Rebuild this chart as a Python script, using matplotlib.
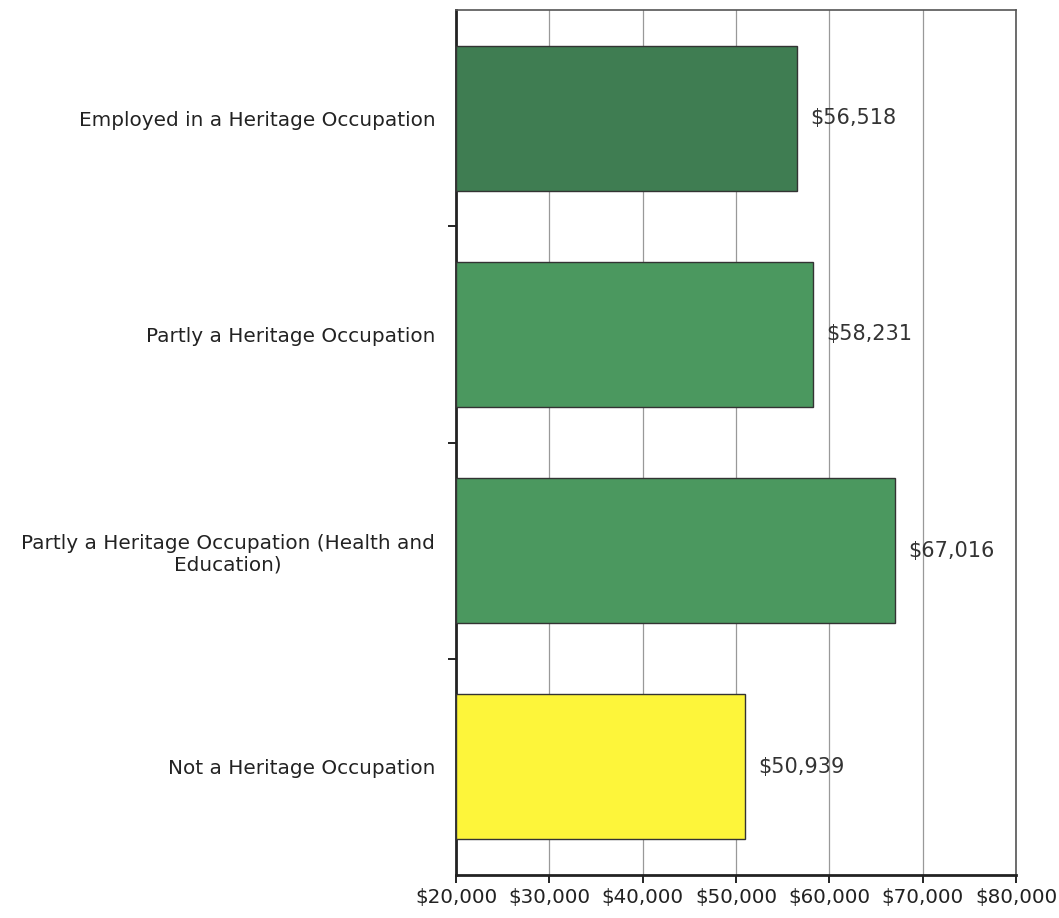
import numpy as np
import matplotlib.pyplot as plt
from matplotlib.ticker import FuncFormatter

categories = ["Employed in a Heritage Occupation",
              "Partly a Heritage Occupation",
              "Partly a Heritage Occupation (Health and\nEducation)",
              "Not a Heritage Occupation"]
values = [56518, 58231, 67016, 50939]
colors = ["#3f7d52", "#4b985f", "#4b985f", "#fdf53a"]
xticks = [20000, 30000, 40000, 50000, 60000, 70000, 80000]

fig = plt.figure(figsize=(10.59, 9.18), dpi=100)
ax = fig.add_axes([0.4306, 0.0468, 0.5288, 0.9422])

y = np.arange(len(categories))
ax.barh(y, [v - 20000 for v in values], left=20000, height=0.67,
        color=colors, edgecolor="#333333", linewidth=1.0, zorder=3)

for yi, v in zip(y, values):
    ax.text(v + 1400, yi, "${:,}".format(v), va="center", ha="left",
            fontsize=15, color="#333333", zorder=4)

ax.set_xlim(20000, 80000)
ax.set_ylim(len(categories) - 0.5, -0.5)
ax.set_xticks(xticks)
ax.xaxis.set_major_formatter(FuncFormatter(lambda v, p: "${:,.0f}".format(v)))
ax.grid(axis="x", color="#999999", linewidth=0.9, zorder=0)

ax.set_yticks(y)
ax.set_yticklabels(categories, fontsize=14.4, color="#222222")
ax.set_yticks(np.arange(0.5, len(categories) - 0.5, 1), minor=True)
ax.tick_params(axis="y", which="major", length=0, pad=15)
ax.tick_params(axis="y", which="minor", length=6, width=1.2, direction="out")
ax.tick_params(axis="x", length=6, width=1.2, labelsize=14.3, labelcolor="#222222")

for s in ax.spines.values():
    s.set_color("#555555")
    s.set_linewidth(1.2)
ax.spines["left"].set_color("#222222")
ax.spines["bottom"].set_color("#222222")
ax.spines["left"].set_linewidth(2)
ax.spines["bottom"].set_linewidth(2)

for lbl in ax.get_yticklabels():
    lbl.set_multialignment("center")

fig.savefig("out.png", dpi=100)
